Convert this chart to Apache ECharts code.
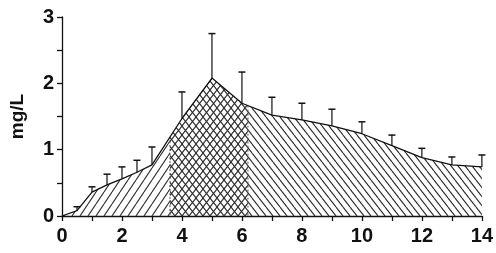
<!DOCTYPE html>
<html lang="en">
<head>
  <meta charset="UTF-8">
  <title>Concentration – mg/L</title>
  <style>
    * { margin: 0; padding: 0; }
    html, body { width: 100%; height: 100%; background: #fff; }
    #chart { width: 496px; height: 253px; }
  </style>
</head>
<body>
  <div id="chart"></div>
  <script src="https://cdn.jsdelivr.net/npm/echarts@6/dist/echarts.min.js"></script>
  <script>
    // data
    const times  = [0, 0.5, 1, 1.5, 2, 2.5, 3, 4, 5, 6, 7, 8, 9, 10, 11, 12, 13, 14];
    const means  = [0, 0.08, 0.36, 0.47, 0.56, 0.66, 0.77, 1.47, 2.08, 1.7, 1.52, 1.45, 1.36, 1.24, 1.06, 0.88, 0.77, 0.74];
    const errTop = [null, 0.14, 0.44, 0.63, 0.74, 0.84, 1.04, 1.87, 2.75, 2.17, 1.79, 1.7, 1.61, 1.42, 1.22, 1.02, 0.89, 0.92];
    // shaded phases (x ranges) and their hatch kind
    const phaseBreaks = [0, 3.6, 6.2, 14];
    const phaseHatch  = ['fwd', 'cross', 'back'];
    const xTicks = [0, 2, 4, 6, 8, 10, 12, 14];
    const yTicks = [0, 1, 2, 3];

    const INK = '#111';
    const FONT = 'Liberation Sans';

    // hatch patterns drawn on little canvases
    function hatch(kind) {
      const spec = { fwd: [8, 12], back: [7, 9], cross: [7, 9] }[kind];
      const w = spec[0], h = spec[1];
      const c = document.createElement('canvas');
      c.width = w; c.height = h;
      const g = c.getContext('2d');
      g.strokeStyle = '#2a2a2a';
      g.lineWidth = 1.1;
      for (let k = -1; k <= 1; k++) {
        if (kind !== 'back') {          // "/" lines
          g.beginPath(); g.moveTo(k * w, h); g.lineTo(k * w + w, 0); g.stroke();
        }
        if (kind !== 'fwd') {           // "\" lines
          g.beginPath(); g.moveTo(k * w, 0); g.lineTo(k * w + w, h); g.stroke();
        }
      }
      return { image: c, repeat: 'repeat' };
    }

    function meanAt(t) {
      for (let i = 1; i < times.length; i++) {
        if (t <= times[i]) {
          const f = (t - times[i - 1]) / (times[i] - times[i - 1]);
          return means[i - 1] + f * (means[i] - means[i - 1]);
        }
      }
      return means[means.length - 1];
    }

    function renderArea(params, api) {
      const children = [];
      for (let p = 0; p < phaseHatch.length; p++) {
        const a = phaseBreaks[p], b = phaseBreaks[p + 1];
        const pts = [api.coord([a, 0]), api.coord([a, meanAt(a)])];
        times.forEach((t, i) => {
          if (t > a && t < b) pts.push(api.coord([t, means[i]]));
        });
        pts.push(api.coord([b, meanAt(b)]), api.coord([b, 0]));
        children.push({
          type: 'polygon',
          shape: { points: pts },
          style: { fill: hatch(phaseHatch[p]), stroke: null }
        });
        if (p > 0) {
          const top = api.coord([a, meanAt(a)]), bot = api.coord([a, 0]);
          children.push({
            type: 'line',
            shape: { x1: top[0], y1: top[1], x2: bot[0], y2: bot[1] },
            style: { stroke: '#555', lineWidth: 1, lineDash: [2, 2] }
          });
        }
      }
      return { type: 'group', children };
    }

    function renderErr(params, api) {
      if (api.value(2) == null || isNaN(api.value(2))) return;
      const lo = api.coord([api.value(0), api.value(1)]);
      const hi = api.coord([api.value(0), api.value(2)]);
      return {
        type: 'group',
        children: [
          { type: 'line', shape: { x1: hi[0], y1: lo[1], x2: hi[0], y2: hi[1] },
            style: { stroke: INK, lineWidth: 1.2 } },
          { type: 'line', shape: { x1: hi[0] - 3.5, y1: hi[1], x2: hi[0] + 3.5, y2: hi[1] },
            style: { stroke: INK, lineWidth: 1.5 } }
        ]
      };
    }

    const chart = echarts.init(document.getElementById('chart'), null, { renderer: 'canvas' });

    const labelStyle = { color: INK, fontFamily: FONT, fontSize: 20, fontWeight: 'bold' };

    chart.setOption({
      animation: false,
      grid: { left: 53, right: 10, top: 17, bottom: 37 },
      xAxis: {
        type: 'value', min: 0, max: 14, interval: 1,
        axisLine: { lineStyle: { color: INK, width: 1.3 } },
        axisTick: { length: 5, lineStyle: { color: INK, width: 1.3 } },
        axisLabel: Object.assign({
          margin: 10,
          formatter: v => xTicks.includes(v) ? String(v) : ''
        }, labelStyle),
        splitLine: { show: false }
      },
      yAxis: {
        type: 'value', min: 0, max: 3, interval: 0.5,
        name: 'mg/L', nameLocation: 'middle', nameGap: 35, nameRotate: 90,
        nameTextStyle: Object.assign({}, labelStyle, { fontSize: 19 }),
        axisLine: { show: true, lineStyle: { color: INK, width: 1.3 } },
        axisTick: { show: true, length: 5, lineStyle: { color: INK, width: 1.3 } },
        axisLabel: Object.assign({
          margin: 8,
          formatter: v => yTicks.includes(v) ? String(v) : ''
        }, labelStyle),
        splitLine: { show: false }
      },
      series: [
        {
          type: 'custom',
          renderItem: renderArea,
          data: [[0, 0]],
          silent: true,
          z: 1
        },
        {
          type: 'line',
          data: times.map((t, i) => [t, means[i]]),
          showSymbol: false,
          lineStyle: { color: INK, width: 1.3 },
          z: 3
        },
        {
          type: 'custom',
          renderItem: renderErr,
          data: times.map((t, i) => [t, means[i], errTop[i]]),
          z: 4
        }
      ]
    });
  </script>
</body>
</html>
